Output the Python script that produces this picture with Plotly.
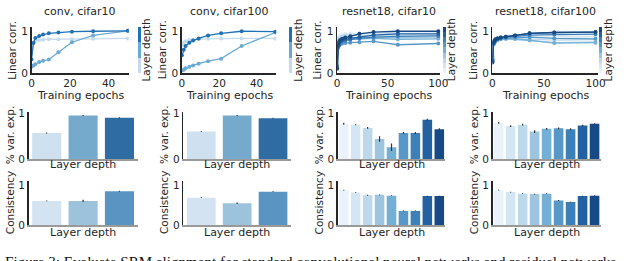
import plotly.graph_objects as go

W, H = 640, 261

# ---------------- data ----------------
titles = ["conv, cifar10", "conv, cifar100", "resnet18, cifar10", "resnet18, cifar100"]

conv_epochs = [0, 1, 2, 4, 6, 9, 14, 21, 32, 50]
conv10_layer1 = [0.45, 0.72, 0.76, 0.78, 0.79, 0.80, 0.80, 0.80, 0.81, 0.82]
conv10_layer2 = [0.15, 0.18, 0.21, 0.26, 0.29, 0.32, 0.49, 0.73, 0.89, 1.00]
conv10_layer3 = [0.32, 0.71, 0.83, 0.88, 0.91, 0.94, 0.96, 0.98, 0.99, 1.00]
conv100_layer1 = [0.66, 0.72, 0.75, 0.78, 0.79, 0.80, 0.81, 0.82, 0.82, 0.82]
conv100_layer2 = [0.06, 0.08, 0.11, 0.15, 0.18, 0.22, 0.28, 0.34, 0.64, 0.96]
conv100_layer3 = [0.42, 0.55, 0.64, 0.72, 0.77, 0.82, 0.89, 0.94, 0.99, 0.98]

res_epochs = [0, 1, 2, 3, 5, 8, 13, 22, 36, 60, 100]
res10_layers = [
    [0.40, 0.80, 0.86, 0.89, 0.91, 0.93, 0.94, 0.95, 0.96, 0.96, 0.96],
    [0.35, 0.78, 0.84, 0.87, 0.89, 0.91, 0.92, 0.93, 0.94, 0.94, 0.94],
    [0.30, 0.74, 0.80, 0.83, 0.86, 0.88, 0.89, 0.90, 0.90, 0.90, 0.90],
    [0.25, 0.70, 0.76, 0.79, 0.81, 0.83, 0.84, 0.85, 0.85, 0.84, 0.85],
    [0.20, 0.66, 0.72, 0.75, 0.77, 0.79, 0.80, 0.81, 0.82, 0.80, 0.81],
    [0.18, 0.60, 0.65, 0.68, 0.70, 0.71, 0.72, 0.73, 0.75, 0.67, 0.70],
    [0.15, 0.62, 0.68, 0.72, 0.75, 0.77, 0.79, 0.82, 0.85, 0.87, 0.88],
    [0.12, 0.64, 0.71, 0.75, 0.78, 0.80, 0.82, 0.85, 0.90, 0.93, 0.93],
    [0.10, 0.66, 0.74, 0.78, 0.81, 0.84, 0.87, 0.93, 0.97, 0.99, 0.99],
]
res100_layers = [
    [0.55, 0.75, 0.80, 0.82, 0.84, 0.85, 0.86, 0.88, 0.89, 0.90, 0.90],
    [0.50, 0.72, 0.77, 0.80, 0.82, 0.83, 0.84, 0.85, 0.85, 0.85, 0.86],
    [0.45, 0.70, 0.75, 0.78, 0.80, 0.81, 0.82, 0.82, 0.80, 0.78, 0.79],
    [0.40, 0.68, 0.73, 0.76, 0.78, 0.80, 0.81, 0.80, 0.77, 0.72, 0.73],
    [0.35, 0.67, 0.72, 0.75, 0.78, 0.80, 0.81, 0.81, 0.78, 0.71, 0.72],
    [0.32, 0.68, 0.74, 0.77, 0.80, 0.82, 0.83, 0.84, 0.85, 0.82, 0.81],
    [0.30, 0.70, 0.75, 0.78, 0.81, 0.83, 0.85, 0.87, 0.90, 0.91, 0.92],
    [0.28, 0.71, 0.76, 0.79, 0.82, 0.84, 0.86, 0.89, 0.94, 0.96, 0.97],
    [0.25, 0.72, 0.77, 0.80, 0.82, 0.84, 0.86, 0.89, 0.94, 0.96, 0.97],
]

conv_layers = [1, 2, 3]
res_layers = [1, 2, 3, 4, 5, 6, 7, 8, 9]

varexp_conv10 = [0.57, 0.95, 0.90]
varexp_conv10_err = [0.01, 0.01, 0.01]
varexp_conv100 = [0.60, 0.95, 0.89]
varexp_conv100_err = [0.01, 0.01, 0.01]
varexp_res10 = [0.77, 0.75, 0.68, 0.44, 0.26, 0.57, 0.57, 0.86, 0.65]
varexp_res10_err = [0.02, 0.01, 0.02, 0.06, 0.08, 0.02, 0.02, 0.02, 0.02]
varexp_res100 = [0.79, 0.72, 0.75, 0.60, 0.66, 0.67, 0.65, 0.73, 0.77]
varexp_res100_err = [0.02, 0.02, 0.02, 0.03, 0.02, 0.02, 0.02, 0.02, 0.01]

cons_conv10 = [0.61, 0.61, 0.85]
cons_conv10_err = [0.01, 0.03, 0.01]
cons_conv100 = [0.69, 0.55, 0.84]
cons_conv100_err = [0.01, 0.02, 0.01]
cons_res10 = [0.88, 0.82, 0.75, 0.76, 0.74, 0.36, 0.36, 0.73, 0.73]
cons_res10_err = [0.01, 0.01, 0.01, 0.01, 0.01, 0.01, 0.01, 0.01, 0.01]
cons_res100 = [0.88, 0.83, 0.79, 0.78, 0.79, 0.62, 0.58, 0.73, 0.74]
cons_res100_err = [0.01, 0.01, 0.01, 0.01, 0.01, 0.01, 0.01, 0.01, 0.01]

caption = "Figure 3: Evaluate SRM alignment for standard convolutional neural networks and residual networks"

# ---------------- styles ----------------
conv_line_colors = ["#c6dbef", "#6aaad6", "#2171b5"]
conv_var_colors = ["#cfe0f0", "#76aacd", "#2f6ca3"]
conv_cons_colors = ["#d3e3f2", "#9cc3db", "#5a94c3"]
res_colors = ["#eaf3fb", "#d4e5f3", "#bdd7eb", "#9dc5e0", "#74afd6",
              "#5898c8", "#3d7fb9", "#2461a1", "#174a84"]

TXT = "#262626"
FONT = "DejaVu Sans"


def fx(p):
    return p / W


def fy(p):
    return 1 - p / H


row_y = {1: (71, 23), 2: (161, 111.5), 3: (230, 184)}
line_x = [(29, 128), (182, 278), (340, 445), (498, 605)]
bar_x = [(26, 137), (183.5, 293), (340.6, 450), (498.2, 608)]

fig = go.Figure()
layout = dict(
    width=W, height=H, margin=dict(l=0, r=0, t=0, b=0),
    paper_bgcolor="white", plot_bgcolor="white",
    showlegend=False, bargap=0.2,
    font=dict(family=FONT, color=TXT, size=10.5),
)
annotations = []

axis_id = 0


def new_axes(xd, yd, xr, yr, kind, xt=None):
    global axis_id
    axis_id += 1
    n = "" if axis_id == 1 else str(axis_id)
    xa = dict(domain=[fx(xd[0]), fx(xd[1])], range=xr, anchor="y" + n,
              showgrid=False, zeroline=False, ticks="", fixedrange=True)
    ya = dict(domain=[fy(yd[0]), fy(yd[1])], range=yr, anchor="x" + n,
              showgrid=False, zeroline=False, ticks="", tickvals=[0, 1],
              ticktext=["0", "1"], tickfont=dict(size=10.5, color=TXT),
              showline=True, linecolor=TXT, linewidth=1.5, fixedrange=True)
    if kind == "line":
        xa.update(showline=True, linecolor=TXT, linewidth=1.5, tickvals=xt,
                  tickfont=dict(size=10.5, color=TXT))
    else:
        xa.update(showline=True, linecolor="#9a9a9a", linewidth=2,
                  showticklabels=False)
    layout["xaxis" + n] = xa
    layout["yaxis" + n] = ya
    return "x" + n, "y" + n


def step_scale(colors):
    k = len(colors)
    sc = []
    for i, c in enumerate(colors):
        sc.append([i / k, c])
        sc.append([(i + 1) / k, c])
    return sc


line_sets = [
    (conv_epochs, [conv10_layer1, conv10_layer2, conv10_layer3], conv_line_colors, [0, 20, 40], [0, 50.5]),
    (conv_epochs, [conv100_layer1, conv100_layer2, conv100_layer3], conv_line_colors, [0, 20, 40], [0, 50.5]),
    (res_epochs, res10_layers, res_colors, [0, 50, 100], [0, 102]),
    (res_epochs, res100_layers, res_colors, [0, 50, 100], [0, 102]),
]
cbar_x = [137, 290.5, 447.5, 606]
label_x = [146, 300, 456, 616]

for c, (ep, series, cols, xt, xr) in enumerate(line_sets):
    xa, ya = new_axes(line_x[c], row_y[1], xr, [0, 1.09], "line", xt)
    for s, col in zip(series, cols):
        fig.add_trace(go.Scatter(x=ep, y=s, xaxis=xa, yaxis=ya, mode="lines+markers",
                                 line=dict(color=col, width=1.3),
                                 marker=dict(color=col, size=4), hoverinfo="skip"))
    # colorbar (layer depth)
    fig.add_trace(go.Scatter(
        x=[None], y=[None], xaxis=xa, yaxis=ya, mode="markers",
        marker=dict(color=[0], cmin=0, cmax=1, colorscale=step_scale(cols), showscale=True,
                    colorbar=dict(thickness=3, thicknessmode="pixels", len=48 / H, lenmode="fraction",
                                  x=fx(cbar_x[c]), xanchor="left", y=fy(23), yanchor="top",
                                  xpad=0, ypad=0, outlinewidth=0, showticklabels=False, ticks="")),
        hoverinfo="skip"))
    cx = (line_x[c][0] + line_x[c][1]) / 2
    annotations.append(dict(text=titles[c], x=fx(cx), y=fy(7), xref="paper", yref="paper",
                            showarrow=False, font=dict(size=11, color=TXT), xanchor="center", yanchor="middle"))
    annotations.append(dict(text="Training epochs", x=fx(cx), y=fy(95), xref="paper", yref="paper",
                            showarrow=False, font=dict(size=11, color=TXT), xanchor="center", yanchor="middle"))
    annotations.append(dict(text="Linear corr.", x=fx(line_x[c][0] - 20), y=fy(47), xref="paper", yref="paper",
                            showarrow=False, textangle=-90, font=dict(size=10.5, color=TXT),
                            xanchor="center", yanchor="middle"))
    annotations.append(dict(text="Layer depth", x=fx(label_x[c]), y=fy(47), xref="paper", yref="paper",
                            showarrow=False, textangle=-90, font=dict(size=10.5, color=TXT),
                            xanchor="center", yanchor="middle"))

bar_sets = [
    (2, "% var. exp.", [(conv_layers, varexp_conv10, varexp_conv10_err, conv_var_colors),
                        (conv_layers, varexp_conv100, varexp_conv100_err, conv_var_colors),
                        (res_layers, varexp_res10, varexp_res10_err, res_colors),
                        (res_layers, varexp_res100, varexp_res100_err, res_colors)], [0, 1.03], 136, 167),
    (3, "Consistency", [(conv_layers, cons_conv10, cons_conv10_err, conv_cons_colors),
                        (conv_layers, cons_conv100, cons_conv100_err, conv_cons_colors),
                        (res_layers, cons_res10, cons_res10_err, res_colors),
                        (res_layers, cons_res100, cons_res100_err, res_colors)], [0, 1.1], 206, 237),
]

for row, ylab, panels, yr, ymid, xlab_y in bar_sets:
    for c, (cats, vals, errs, cols) in enumerate(panels):
        xr = [cats[0] - 0.5, cats[-1] + 0.5]
        xa, ya = new_axes(bar_x[c], row_y[row], xr, yr, "bar")
        fig.add_trace(go.Bar(x=cats, y=vals, xaxis=xa, yaxis=ya,
                             marker=dict(color=cols, line=dict(width=0)),
                             error_y=dict(type="data", array=errs, color="#333333", thickness=1.2, width=0),
                             hoverinfo="skip"))
        cx = (bar_x[c][0] + bar_x[c][1]) / 2
        annotations.append(dict(text="Layer depth", x=fx(cx), y=fy(xlab_y), xref="paper", yref="paper",
                                showarrow=False, font=dict(size=11, color=TXT), xanchor="center", yanchor="middle"))
        annotations.append(dict(text=ylab, x=fx(bar_x[c][0] - 19), y=fy(ymid), xref="paper", yref="paper",
                                showarrow=False, textangle=-90, font=dict(size=10.5, color=TXT),
                                xanchor="center", yanchor="middle"))

annotations.append(dict(text=caption, x=0, y=fy(257.5), xref="paper", yref="paper", showarrow=False,
                        xanchor="left", yanchor="top", font=dict(family="Liberation Serif", size=15.1, color="#111111")))

layout["annotations"] = annotations
fig.update_layout(**layout)
fig.write_html("out.html", config={"displayModeBar": False, "staticPlot": True},
               post_script="document.body.style.margin='0px';document.body.style.overflow='hidden';")
